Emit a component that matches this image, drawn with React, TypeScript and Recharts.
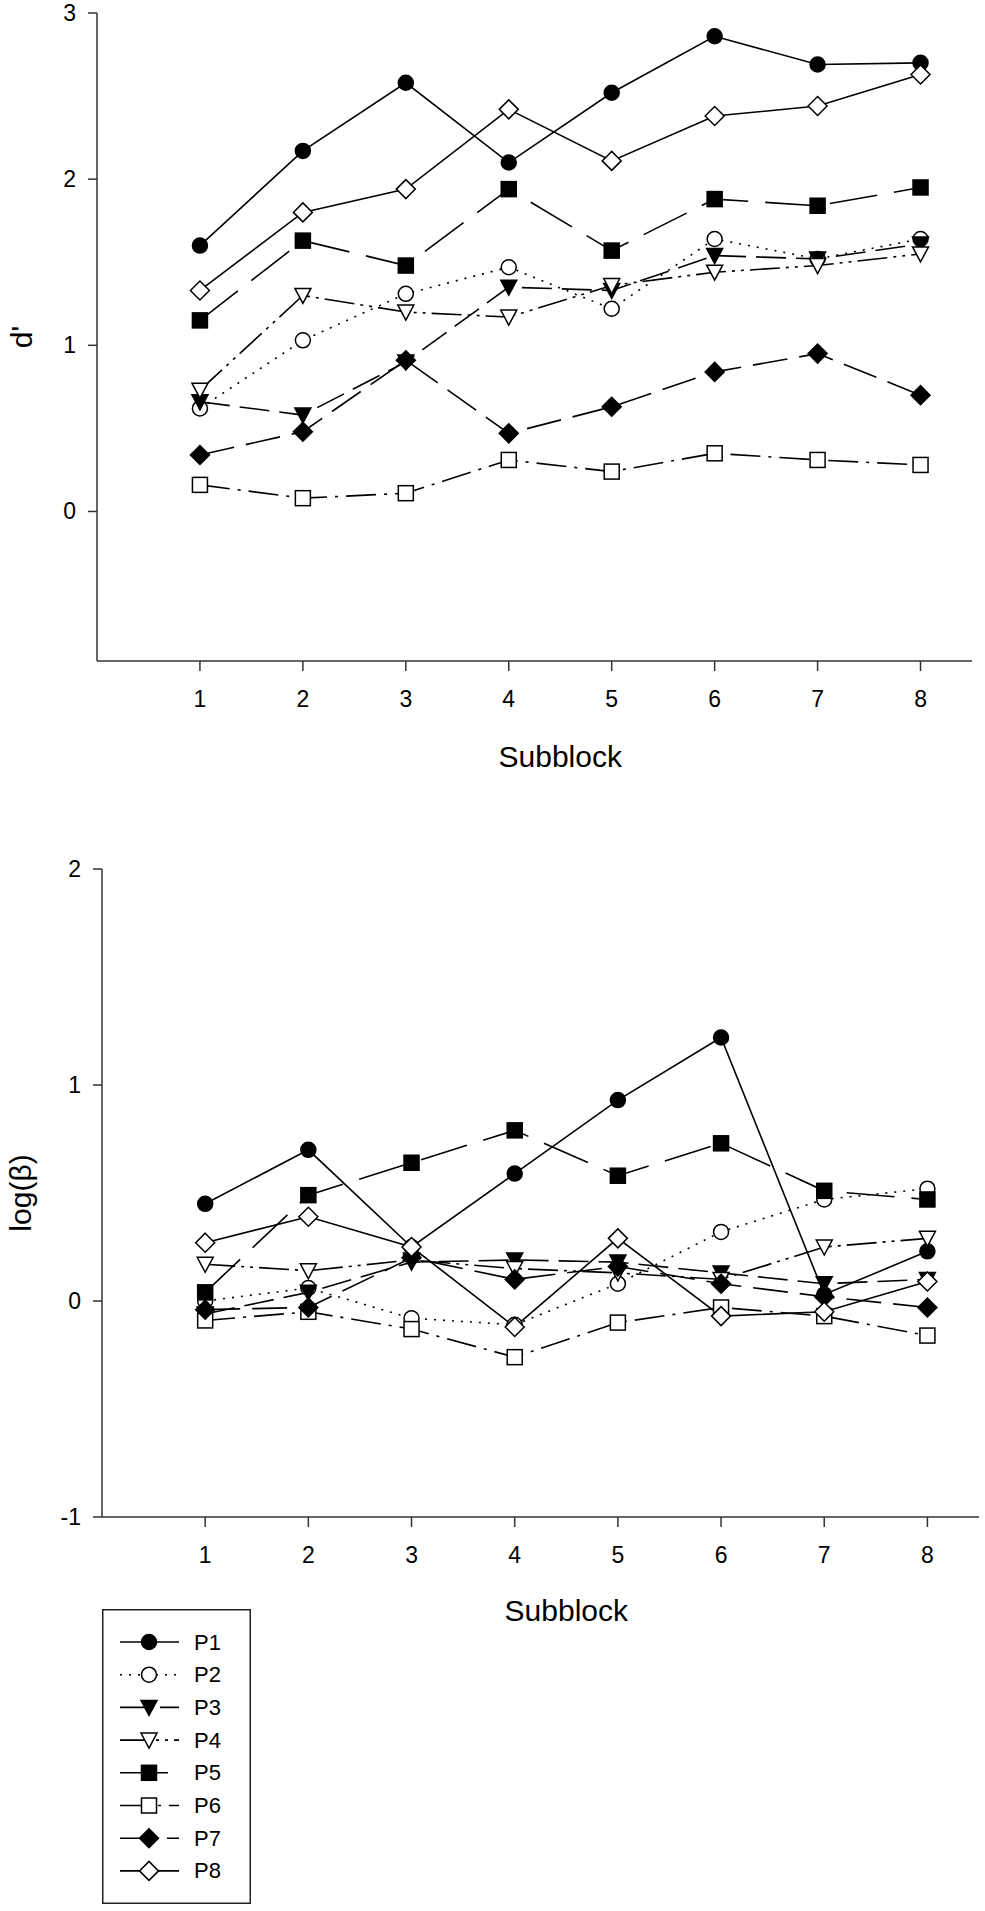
import React from 'react'
import { LineChart, Line, XAxis, YAxis, Legend } from 'recharts'

const subblocks = [1, 2, 3, 4, 5, 6, 7, 8]
const xTicks = [1, 2, 3, 4, 5, 6, 7, 8]
const dTicks = [0, 1, 2, 3]
const betaTicks = [-1, 0, 1, 2]

// panel A: d'
const p1D = [1.6, 2.17, 2.58, 2.1, 2.52, 2.86, 2.69, 2.7]
const p2D = [0.62, 1.03, 1.31, 1.47, 1.22, 1.64, 1.52, 1.64]
const p3D = [0.66, 0.58, 0.9, 1.35, 1.33, 1.54, 1.52, 1.61]
const p4D = [0.73, 1.3, 1.2, 1.17, 1.36, 1.44, 1.48, 1.55]
const p5D = [1.15, 1.63, 1.48, 1.94, 1.57, 1.88, 1.84, 1.95]
const p6D = [0.16, 0.08, 0.11, 0.31, 0.24, 0.35, 0.31, 0.28]
const p7D = [0.34, 0.48, 0.91, 0.47, 0.63, 0.84, 0.95, 0.7]
const p8D = [1.33, 1.8, 1.94, 2.42, 2.11, 2.38, 2.44, 2.63]

// panel B: log(beta)
const p1B = [0.45, 0.7, 0.25, 0.59, 0.93, 1.22, 0.03, 0.23]
const p2B = [0.0, 0.06, -0.08, -0.11, 0.08, 0.32, 0.47, 0.52]
const p3B = [-0.06, 0.04, 0.18, 0.19, 0.18, 0.13, 0.08, 0.1]
const p4B = [0.17, 0.14, 0.19, 0.15, 0.13, 0.1, 0.25, 0.29]
const p5B = [0.04, 0.49, 0.64, 0.79, 0.58, 0.73, 0.51, 0.47]
const p6B = [-0.09, -0.05, -0.13, -0.26, -0.1, -0.03, -0.07, -0.16]
const p7B = [-0.04, -0.03, 0.2, 0.1, 0.16, 0.08, 0.02, -0.03]
const p8B = [0.27, 0.39, 0.25, -0.12, 0.29, -0.07, -0.05, 0.09]

const dRows = subblocks.map((x, i) => ({
  x, P1: p1D[i], P2: p2D[i], P3: p3D[i], P4: p4D[i],
  P5: p5D[i], P6: p6D[i], P7: p7D[i], P8: p8D[i],
}))
const betaRows = subblocks.map((x, i) => ({
  x, P1: p1B[i], P2: p2B[i], P3: p3B[i], P4: p4B[i],
  P5: p5B[i], P6: p6B[i], P7: p7B[i], P8: p8B[i],
}))

type Shape = 'circle' | 'triangle' | 'square' | 'diamond'
interface SeriesStyle { key: string; shape: Shape; filled: boolean; dash?: string }

const series: SeriesStyle[] = [
  { key: 'P1', shape: 'circle', filled: true },
  { key: 'P2', shape: 'circle', filled: false, dash: '2 7' },
  { key: 'P3', shape: 'triangle', filled: true, dash: '30 10' },
  { key: 'P4', shape: 'triangle', filled: false, dash: '30 6 3 6 3 6' },
  { key: 'P5', shape: 'square', filled: true, dash: '48 17' },
  { key: 'P6', shape: 'square', filled: false, dash: '30 8 3 8' },
  { key: 'P7', shape: 'diamond', filled: true, dash: '35 12' },
  { key: 'P8', shape: 'diamond', filled: false },
]
const seriesByKey: Record<string, SeriesStyle> = Object.fromEntries(series.map(s => [s.key, s]))

const FONT = '"Liberation Sans", Arial, Helvetica, sans-serif'
const AXIS = '#333'
const TICK_FONT = 23

function Marker({ x, y, shape, filled }: { x: number; y: number; shape: Shape; filled: boolean }) {
  const paint = { fill: filled ? '#000' : '#fff', stroke: '#000', strokeWidth: 1.5 }
  if (shape === 'circle') return <circle cx={x} cy={y} r={7.5} {...paint} />
  if (shape === 'square') return <rect x={x - 7.5} y={y - 7.5} width={15} height={15} {...paint} />
  if (shape === 'triangle')
    return <polygon points={`${x - 8},${y - 7} ${x + 8},${y - 7} ${x},${y + 8}`} {...paint} />
  return <polygon points={`${x},${y - 9.5} ${x + 9.5},${y} ${x},${y + 9.5} ${x - 9.5},${y}`} {...paint} />
}

function dotFor(s: SeriesStyle) {
  return (props: any) => {
    const { cx, cy, index } = props
    if (cx == null || cy == null) return <g key={`${s.key}-${index}`} />
    return (
      <g key={`${s.key}-${index}`}>
        <Marker x={cx} y={cy} shape={s.shape} filled={s.filled} />
      </g>
    )
  }
}

// tick labels drawn by hand so the font size is certain
function XTick({ x, y, payload }: any) {
  return (
    <text x={x} y={y + TICK_FONT * 0.71} textAnchor="middle" fontSize={TICK_FONT} fontFamily={FONT} fill="#000">
      {payload.value}
    </text>
  )
}

function YTick({ x, y, payload }: any) {
  return (
    <text x={x} y={y} textAnchor="end" dominantBaseline="central" fontSize={TICK_FONT} fontFamily={FONT} fill="#000">
      {payload.value}
    </text>
  )
}

function LegendBox({ payload }: any) {
  const items = payload ?? []
  return (
    <svg width={149} height={295} style={{ display: 'block' }}>
      <rect x={0.75} y={0.75} width={147.5} height={293.5} fill="#fff" stroke="#222" strokeWidth={1.5} />
      {items.map((item: any, i: number) => {
        const s = seriesByKey[item.dataKey]
        if (!s) return null
        const cy = 33 + i * 32.7
        return (
          <g key={s.key}>
            <line x1={18} x2={77} y1={cy} y2={cy} stroke="#000" strokeWidth={1.6} strokeDasharray={s.dash} />
            <Marker x={47} y={cy} shape={s.shape} filled={s.filled} />
            <text x={92} y={cy} dominantBaseline="central" fontSize={22} fontFamily={FONT} fill="#000">
              {item.value}
            </text>
          </g>
        )
      })}
    </svg>
  )
}

// x title is centred on the tick span (1..8), not on the plot box
const subblockLabel = (dy: number) => (props: any) => {
  const vb = props.viewBox ?? { x: 0, y: 0, width: 0 }
  return (
    <text x={vb.x + (vb.width * 4.5) / 8.5} y={vb.y + dy} textAnchor="middle" dominantBaseline="central"
      fontSize={30} fontFamily={FONT} fill="#000">
      Subblock
    </text>
  )
}

const yTitle = (title: string, cx: number) => (props: any) => {
  const vb = props.viewBox ?? { x: 0, y: 0, height: 0 }
  const cy = vb.y + vb.height / 2
  return (
    <text x={cx} y={cy} transform={`rotate(-90 ${cx} ${cy})`} textAnchor="middle" dominantBaseline="central"
      fontSize={30} fontFamily={FONT} fill="#000">
      {title}
    </text>
  )
}

const panelTag = (tag: string, dx: number, dy: number) => (props: any) => {
  const vb = props.viewBox ?? { x: 0, y: 0 }
  return (
    <text x={vb.x + dx} y={vb.y + dy} fontSize={33} fontWeight="bold" fontFamily={FONT} fill="#000">
      {tag}
    </text>
  )
}

function Panel({ rows, domain, ticks, title, tag, width, height, margin, yWidth, xHeight, tagPos, titleX, subDy, withLegend }: any) {
  return (
    <LineChart width={width} height={height} data={rows} margin={margin} style={{ fontFamily: FONT }}>
      <XAxis dataKey="x" type="number" domain={[0, 8.5]} ticks={xTicks} allowDataOverflow
        height={xHeight} tickSize={10} tickMargin={20}
        axisLine={{ stroke: AXIS, strokeWidth: 1.5 }} tickLine={{ stroke: AXIS, strokeWidth: 1.5 }}
        tick={<XTick />} label={subblockLabel(subDy)} />
      <XAxis xAxisId="top" orientation="top" type="number" domain={[0, 8.5]} height={0}
        tick={false} tickLine={false} axisLine={{ stroke: AXIS, strokeWidth: 1.5 }}
        label={panelTag(tag, tagPos[0], tagPos[1])} />
      <YAxis type="number" domain={domain} ticks={ticks} allowDataOverflow width={yWidth}
        tickSize={9} tickMargin={12}
        axisLine={{ stroke: AXIS, strokeWidth: 1.5 }} tickLine={{ stroke: AXIS, strokeWidth: 1.5 }}
        tick={<YTick />} label={yTitle(title, titleX)} />
      <YAxis yAxisId="right" orientation="right" type="number" domain={domain} width={0}
        tick={false} tickLine={false} axisLine={{ stroke: AXIS, strokeWidth: 1.5 }} />
      {series.map(s => (
        <Line key={s.key} dataKey={s.key} name={s.key} stroke="#000" strokeWidth={1.6}
          strokeDasharray={s.dash} dot={dotFor(s)} activeDot={false} isAnimationActive={false} />
      ))}
      {withLegend && (
        <Legend layout="vertical" align="center" verticalAlign="middle" content={<LegendBox />}
          wrapperStyle={{ left: 102, top: 789, width: 149, height: 295 }} />
      )}
    </LineChart>
  )
}

export default function App() {
  return (
    <div style={{ position: 'absolute', left: 0, top: 0, width: 985, height: 1911, background: '#fff' }}>
      <div style={{ position: 'absolute', left: 0, top: 0 }}>
        <Panel rows={dRows} domain={[-0.9, 3]} ticks={dTicks} title="d'" tag="A"
          width={985} height={800} margin={{ top: 13, right: 13, bottom: 0, left: 0 }}
          yWidth={97} xHeight={139} tagPos={[26, 55]} titleX={21} subDy={95} />
      </div>
      <div style={{ position: 'absolute', left: 0, top: 820 }}>
        <Panel rows={betaRows} domain={[-1, 2]} ticks={betaTicks} title="log(β)" tag="B"
          width={985} height={1091} margin={{ top: 49, right: 6, bottom: 0, left: 0 }}
          yWidth={102} xHeight={394} tagPos={[20, 45]} titleX={20} subDy={93} withLegend />
      </div>
    </div>
  )
}
